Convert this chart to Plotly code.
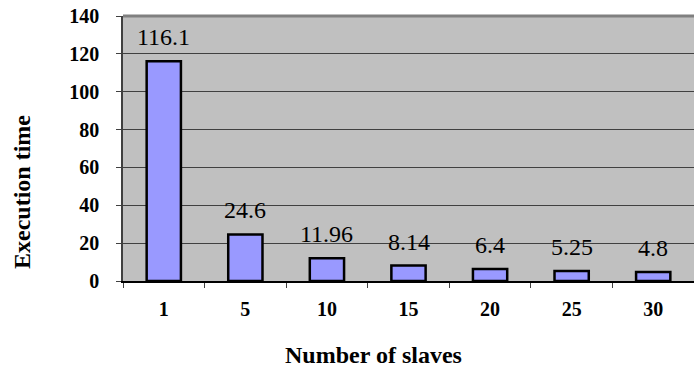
import plotly.graph_objects as go

categories = ["1", "5", "10", "15", "20", "25", "30"]
exec_time = [116.1, 24.6, 11.96, 8.14, 6.4, 5.25, 4.8]
bar_labels = ["116.1", "24.6", "11.96", "8.14", "6.4", "5.25", "4.8"]
y_ticks = [0, 20, 40, 60, 80, 100, 120, 140]

FONT = "Liberation Serif"

W, H = 694, 367
L, R, T, B = 123, 0, 16, 86
PW, PH = W - L - R, H - T - B

fig = go.Figure()
fig.add_trace(go.Bar(
    x=categories, y=exec_time, width=0.42,
    marker=dict(color="#9999ff", line=dict(color="black", width=2.5)),
    hoverinfo="skip",
))

annotations = []
for i, (v, t) in enumerate(zip(exec_time, bar_labels)):
    annotations.append(dict(x=i, y=v, xref="x", yref="y", text=t, showarrow=False,
                            yanchor="bottom", yshift=9,
                            font=dict(family=FONT, size=24, color="black")))
annotations.append(dict(x=(373 - L) / PW, y=(H - B - 355) / PH, xref="paper", yref="paper",
                        text="Number of slaves", showarrow=False,
                        xanchor="center", yanchor="middle",
                        font=dict(family=FONT, size=24, color="black", weight="bold")))
annotations.append(dict(x=(22 - L) / PW, y=(H - B - 192) / PH, xref="paper", yref="paper",
                        text="Execution time", textangle=-90, showarrow=False,
                        xanchor="center", yanchor="middle",
                        font=dict(family=FONT, size=24, color="black", weight="bold")))

fig.update_layout(
    width=W, height=H,
    margin=dict(l=L, r=R, t=T, b=B),
    paper_bgcolor="white", plot_bgcolor="#c0c0c0",
    showlegend=False,
    font=dict(family=FONT, color="black"),
    annotations=annotations,
    shapes=[dict(type="line", xref="paper", yref="paper", x0=0, x1=1, y0=1, y1=1,
                 line=dict(color="#808080", width=3))],
)
fig.update_xaxes(
    type="category", range=[-0.5, 6.5], tickson="boundaries", ticks="outside", ticklen=5,
    tickcolor="#404040", tickangle=0,
    showline=True, linecolor="black", linewidth=1.5, showgrid=False,
    tickfont=dict(family=FONT, size=20, color="black", weight="bold"),
    ticklabelstandoff=9,
)
fig.update_yaxes(
    range=[0, 140], tickvals=y_ticks, ticks="outside", ticklen=5, tickcolor="#404040",
    showline=True, linecolor="#404040", linewidth=1.5,
    showgrid=True, gridcolor="#404040", gridwidth=1, zeroline=False,
    tickfont=dict(family=FONT, size=20, color="black", weight="bold"),
    ticklabelstandoff=13,
)
fig.write_html("out.html")
